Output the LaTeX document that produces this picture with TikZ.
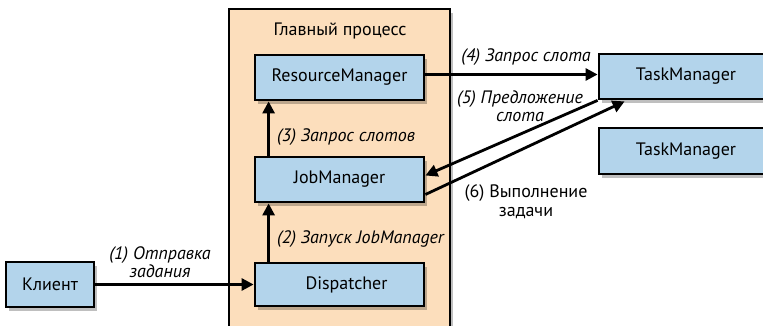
\documentclass[tikz,border=0pt]{standalone}
\usepackage{fontspec}
\setmainfont{PT Sans}
\usetikzlibrary{arrows.meta,shadows,calc}
\definecolor{boxblue}{RGB}{179,212,235}
\definecolor{peach}{RGB}{252,222,188}
\begin{document}
\begin{tikzpicture}[x=1pt,y=-1pt,
  shad/.style={drop shadow={shadow xshift=3pt,shadow yshift=-4pt,fill=black,opacity=0.25}},
  comp/.style={draw=black,line width=2.8pt,fill=boxblue,shad,minimum width=169pt,minimum height=45pt,inner sep=0pt,font=\fontsize{18}{18}\selectfont},
  lbl/.style={font=\fontsize{18}{18}\selectfont\itshape,inner sep=0pt,align=center},
  ulbl/.style={font=\fontsize{18}{19}\selectfont,inner sep=0pt,align=center},
  arr/.style={line width=2.8pt,-{Triangle[length=12pt,width=12pt]}}]
\useasboundingbox (0,0) rectangle (763,326);
\begin{scope}
\clip (0,0) rectangle (763,326);
\node[draw=black,line width=2.8pt,fill=peach,shad,minimum width=221pt,minimum height=318pt,inner sep=0pt] (main) at (339.5,168) {};
\node[ulbl] (title) at (340,31) {Главный процесс};
\node[comp] (rm) at (339.5,77.5) {ResourceManager};
\node[comp] (jm) at (339.5,179.5) {JobManager};
\node[comp,minimum height=43pt] (disp) at (339.5,284.5) {\hspace*{14pt}Dispatcher};
\node[comp,minimum width=88pt] (client) at (50,284.5) {Клиент};
\node[comp,minimum width=174pt] (tm1) at (686,76.5) {TaskManager};
\node[comp,minimum width=174pt,minimum height=46pt] (tm2) at (686,151) {TaskManager};
\end{scope}
\draw[arr] (client.east) -- (disp.west);
\draw[arr] ([xshift=15pt]disp.north west) -- ([xshift=15pt]jm.south west);
\draw[arr] ([xshift=15pt]jm.north west) -- ([xshift=15pt]rm.south west);
\draw[arr] ([yshift=3pt]rm.east) -- ([yshift=3pt]rm.east -| tm1.west);
\draw[arr] (tm1.south west) -- ([yshift=4pt]jm.east);
\draw[arr] ([yshift=-15pt]jm.east) -- ([xshift=27pt,yshift=-1pt]tm1.south west);
\node[lbl] (l1) at (160,262) {(1) Отправка\\задания};
\node[lbl,anchor=west] (l2) at (277,239) {(2) Запуск JobManager};
\node[lbl,anchor=west] (l3) at (277,137) {(3) Запрос слотов};
\node[lbl] (l4) at (526,57) {(4) Запрос слота};
\node[lbl] (l5) at (520,106) {(5) Предложение\\слота};
\node[ulbl] (l6) at (526,202) {(6) Выполнение\\задачи};
\end{tikzpicture}
\end{document}
